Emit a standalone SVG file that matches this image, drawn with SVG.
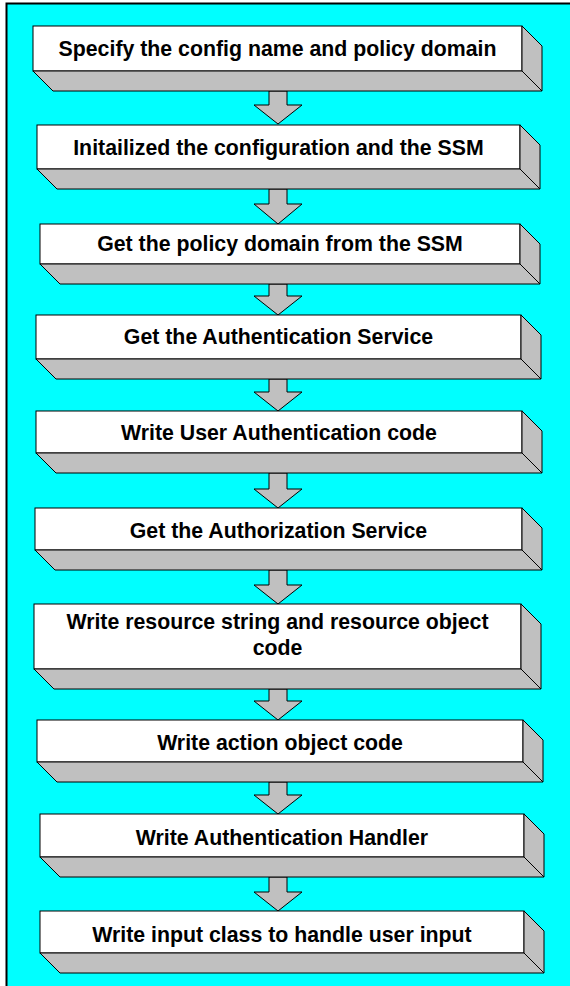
<svg xmlns="http://www.w3.org/2000/svg" width="570" height="986" viewBox="0 0 570 986">
<style>
.front{fill:#ffffff;stroke:#000;stroke-width:1}
.side{fill:#c0c0c0;stroke:#000;stroke-width:1;stroke-linejoin:miter}
.arrow{fill:#c0c0c0;stroke:#000;stroke-width:1}
.lbl{font-family:"Liberation Sans",Arial,sans-serif;font-weight:bold;font-size:21.3px;fill:#000;text-anchor:middle}
</style>
<rect x="0" y="0" width="570" height="986" fill="#ffffff"/>
<rect id="frame" x="6.5" y="3.5" width="600" height="1000" fill="#00ffff" stroke="#000" stroke-width="2"/>
<g id="connectors">
<polygon class="arrow" points="269,91 287,91 287,105 302,105 278,124 254,105 269,105"/>
<polygon class="arrow" points="269,189 287,189 287,204 302,204 278,224 254,204 269,204"/>
<polygon class="arrow" points="269,284 287,284 287,296 302,296 278,315 254,296 269,296"/>
<polygon class="arrow" points="269,379 287,379 287,392 302,392 278,411 254,392 269,392"/>
<polygon class="arrow" points="269,473 287,473 287,489 302,489 278,508 254,489 269,489"/>
<polygon class="arrow" points="269,570 287,570 287,585 302,585 278,604 254,585 269,585"/>
<polygon class="arrow" points="269,689 287,689 287,701 302,701 278,720 254,701 269,701"/>
<polygon class="arrow" points="269,782 287,782 287,795 302,795 278,814 254,795 269,795"/>
<polygon class="arrow" points="269,877 287,877 287,892 302,892 278,911 254,892 269,892"/>
</g>
<g id="n1">
<rect class="front" x="33" y="26" width="489" height="45"/>
<polygon class="side" points="33,71 522,71 542,91 53,91"/>
<polygon class="side" points="522,26 542,46 542,91 522,71"/>
<text class="lbl" x="277.5" y="56">Specify the config name and policy domain</text>
</g>
<g id="n2">
<rect class="front" x="37" y="125" width="483" height="44"/>
<polygon class="side" points="37,169 520,169 540,189 57,189"/>
<polygon class="side" points="520,125 540,145 540,189 520,169"/>
<text class="lbl" x="278.5" y="155">Initailized the configuration and the SSM</text>
</g>
<g id="n3">
<rect class="front" x="40" y="224" width="480" height="40"/>
<polygon class="side" points="40,264 520,264 540,284 60,284"/>
<polygon class="side" points="520,224 540,244 540,284 520,264"/>
<text class="lbl" x="280" y="251">Get the policy domain from the SSM</text>
</g>
<g id="n4">
<rect class="front" x="36" y="315" width="485" height="44"/>
<polygon class="side" points="36,359 521,359 541,379 56,379"/>
<polygon class="side" points="521,315 541,335 541,379 521,359"/>
<text class="lbl" x="278.5" y="344">Get the Authentication Service</text>
</g>
<g id="n5">
<rect class="front" x="36" y="411" width="486" height="42"/>
<polygon class="side" points="36,453 522,453 542,473 56,473"/>
<polygon class="side" points="522,411 542,431 542,473 522,453"/>
<text class="lbl" x="279" y="439.6">Write User Authentication code</text>
</g>
<g id="n6">
<rect class="front" x="35" y="508" width="487" height="42"/>
<polygon class="side" points="35,550 522,550 542,570 55,570"/>
<polygon class="side" points="522,508 542,528 542,570 522,550"/>
<text class="lbl" x="278.5" y="537.5">Get the Authorization Service</text>
</g>
<g id="n7">
<rect class="front" x="34" y="604" width="487" height="65"/>
<polygon class="side" points="34,669 521,669 541,689 54,689"/>
<polygon class="side" points="521,604 541,624 541,689 521,669"/>
<text class="lbl" x="277.5" y="629">Write resource string and resource object</text>
<text class="lbl" x="277.5" y="655">code</text>
</g>
<g id="n8">
<rect class="front" x="37" y="720" width="486" height="42"/>
<polygon class="side" points="37,762 523,762 543,782 57,782"/>
<polygon class="side" points="523,720 543,740 543,782 523,762"/>
<text class="lbl" x="280" y="749.5">Write action object code</text>
</g>
<g id="n9">
<rect class="front" x="40" y="814" width="484" height="43"/>
<polygon class="side" points="40,857 524,857 544,877 60,877"/>
<polygon class="side" points="524,814 544,834 544,877 524,857"/>
<text class="lbl" x="282" y="845">Write Authentication Handler</text>
</g>
<g id="n10">
<rect class="front" x="40" y="911" width="484" height="42"/>
<polygon class="side" points="40,953 524,953 544,973 60,973"/>
<polygon class="side" points="524,911 544,931 544,973 524,953"/>
<text class="lbl" x="282" y="942">Write input class to handle user input</text>
</g>
</svg>
